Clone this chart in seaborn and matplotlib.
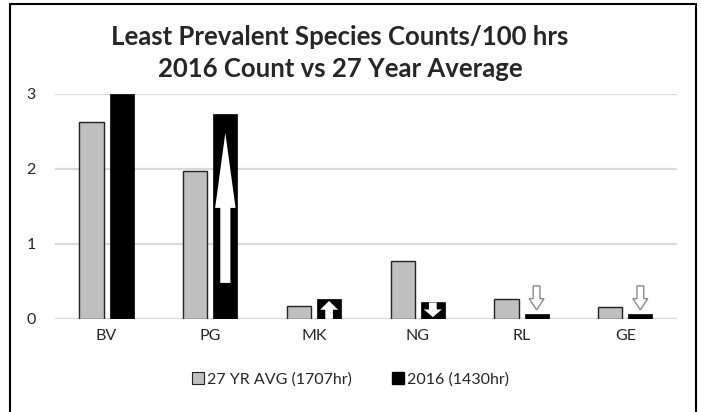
import matplotlib
matplotlib.use("Agg")
import matplotlib.pyplot as plt
from matplotlib.patches import FancyArrow
from matplotlib.lines import Line2D
import seaborn as sns
import pandas as pd

species = ["BV", "PG", "MK", "NG", "RL", "GE"]
avg_27yr = [2.62, 1.97, 0.17, 0.77, 0.27, 0.16]
count_2016 = [3.00, 2.73, 0.26, 0.23, 0.06, 0.06]
series_names = ["27 YR AVG (1707hr)", "2016 (1430hr)"]
title_text = "Least Prevalent Species Counts/100 hrs\n2016 Count vs 27 Year Average"
yticks = [0, 1, 2, 3]

df = pd.DataFrame({
    "species": species * 2,
    "value": avg_27yr + count_2016,
    "series": [series_names[0]] * len(species) + [series_names[1]] * len(species),
})

sns.set_theme(style="white")
plt.rcParams["font.family"] = ["Lato", "DejaVu Sans"]

fig = plt.figure(figsize=(7.01, 4.12), dpi=100)
ax = fig.add_axes([0.078, 0.226, 0.888, 0.546])

sns.barplot(data=df, x="species", y="value", hue="series", order=species,
            hue_order=series_names, palette=["#BFBFBF", "#000000"],
            width=0.58, gap=0.2, ax=ax, legend=False, saturation=1)

nsp = len(species)
patches = ax.patches
for p in patches[:nsp]:
    p.set_edgecolor("#222222")
    p.set_linewidth(1.0)
for p in patches[nsp:2 * nsp]:
    p.set_edgecolor("#000000")
    p.set_linewidth(0.5)

ax.set_ylim(0, 3)
ax.set_xlim(-0.5, nsp - 0.5)
ax.set_yticks(yticks)
ax.set_yticklabels([str(t) for t in yticks])
ax.yaxis.grid(True, color="#D9D9D9", linewidth=1.6)
ax.set_axisbelow(True)
for s in ax.spines.values():
    s.set_visible(False)
ax.axhline(0, color="#D9D9D9", linewidth=1.6, zorder=0.5)
ax.set_xlabel("")
ax.set_ylabel("")
ax.tick_params(axis="x", labelsize=11.5, pad=7, length=0)
ax.tick_params(axis="y", labelsize=11.5, pad=17, length=0)
for lab in ax.get_yticklabels():
    lab.set_horizontalalignment("center")

black = patches[nsp:2 * nsp]
def bar_geom(p):
    return p.get_x() + p.get_width() / 2, p.get_width(), p.get_height()

# PG big white up arrow
cx, w, h = bar_geom(black[1])
ax.add_patch(FancyArrow(cx, 0.48, 0, 2.0, width=w * 0.42, head_width=w * 0.85,
                        head_length=1.0, length_includes_head=True,
                        color="white", zorder=5, linewidth=0))
# MK small white up arrow
cx, w, h = bar_geom(black[2])
ax.add_patch(FancyArrow(cx, 0.0, 0, h * 0.92, width=w * 0.32, head_width=w * 0.75,
                        head_length=h * 0.45, length_includes_head=True,
                        color="white", zorder=5, linewidth=0))
# NG small white down arrow
cx, w, h = bar_geom(black[3])
ax.add_patch(FancyArrow(cx, h * 0.95, 0, -h * 0.85, width=w * 0.32, head_width=w * 0.75,
                        head_length=h * 0.45, length_includes_head=True,
                        color="white", zorder=5, linewidth=0))
# RL, GE hollow down arrows above bars
for k in (4, 5):
    cx, w, h = bar_geom(black[k])
    ax.add_patch(FancyArrow(cx, 0.44, 0, -0.32, width=w * 0.28, head_width=w * 0.62,
                            head_length=0.15, length_includes_head=True,
                            facecolor="white", edgecolor="#8A8A8A", zorder=5,
                            linewidth=1.0))

fig.suptitle(title_text, x=0.485, y=0.94, fontsize=18.5, fontweight="bold",
             linespacing=1.42, va="top")

handles = [
    plt.Rectangle((0, 0), 1, 1, facecolor="#BFBFBF", edgecolor="#222222", linewidth=0.8),
    plt.Rectangle((0, 0), 1, 1, facecolor="#000000", edgecolor="#000000"),
]
fig.legend(handles, series_names, loc="center", bbox_to_anchor=(0.5, 0.08),
           ncol=2, frameon=False, fontsize=11.5, handlelength=0.75, handleheight=0.75,
           handletextpad=0.2, columnspacing=2.5)

# outer frame
fig.add_artist(Line2D([10 / 701, 10 / 701], [0, 1 - 4 / 412], transform=fig.transFigure,
                      color="black", linewidth=1.5))
fig.add_artist(Line2D([696 / 701, 696 / 701], [0, 1 - 4 / 412], transform=fig.transFigure,
                      color="black", linewidth=1.5))
fig.add_artist(Line2D([10 / 701, 696 / 701], [1 - 4 / 412, 1 - 4 / 412], transform=fig.transFigure,
                      color="black", linewidth=1.5))

fig.savefig("out.png", dpi=100)
